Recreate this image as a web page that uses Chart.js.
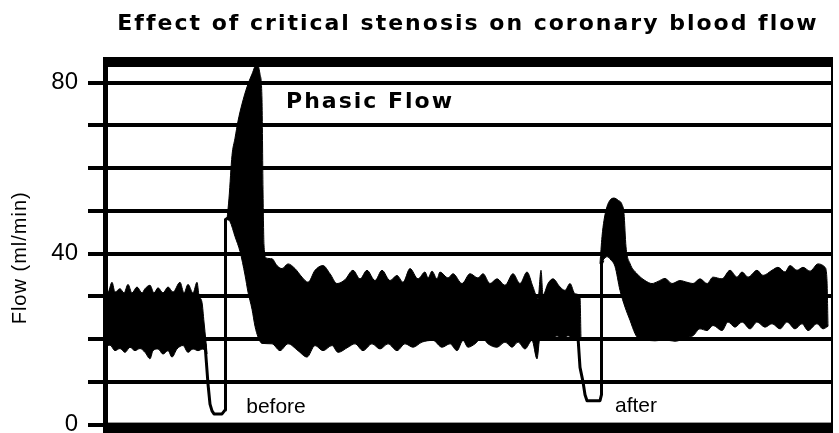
<!DOCTYPE html>
<html>
<head>
<meta charset="utf-8">
<title>Effect of critical stenosis on coronary blood flow</title>
<script src="https://cdn.jsdelivr.net/npm/chart.js@4.4.1/dist/chart.umd.min.js"></script>
<style>
  html, body { margin: 0; padding: 0; background: #fff; overflow: hidden; }
  #flowChart { display: block; }
</style>
</head>
<body>
<canvas id="flowChart" width="839" height="449"></canvas>
<script>
// Phasic flow record, time in seconds (x) and flow in ml/min (y).
// The black band is drawn as the area between an upper and a lower envelope.

// before the occlusion
const beforeHighTime = [0, 0.5, 0.9, 1.2, 1.7, 2.1, 2.5, 2.9, 3.4, 3.9, 4.2, 4.7, 5.1, 5.5, 6.0, 6.5, 7.0, 7.7, 8.1, 8.5, 9.0, 9.4, 9.6, 9.9, 10.1, 10.3, 10.4];
const beforeHigh = [31.8, 31, 33.3, 31, 31.8, 30.8, 32.8, 30.8, 32.2, 30.8, 31.8, 32.6, 30.8, 32, 30.8, 32.2, 31, 33.3, 30.8, 32.8, 30.8, 33.3, 30.2, 28.6, 24, 19.3, 16.6];
const beforeLowTime = [0, 0.7, 1.2, 1.7, 2.2, 2.7, 3.2, 3.7, 4.2, 4.7, 5.0, 5.5, 6.0, 6.5, 6.9, 7.4, 8.0, 8.5, 9.0, 9.5, 10.0, 10.4];
const beforeLow = [17.7, 18.6, 17.3, 17.8, 16.9, 18.1, 17.3, 17.8, 16.9, 15.4, 17.3, 17.7, 16.5, 17.3, 15.8, 17.7, 18.5, 16.9, 17.7, 17.3, 17.7, 16.6];

// hyperaemic peak and flow until the stenosis
const mainHighTime = [12.4, 12.6, 12.9, 13.2, 13.5, 13.9, 14.4, 14.9, 15.4, 15.7, 15.9, 16.0, 16.1, 16.3, 16.9, 17.4, 17.9, 18.5, 19.2, 19.9,
  20.5, 21.2, 22.0, 22.7, 23.4, 24.2, 25.0, 25.7, 26.4, 27.2, 27.9, 28.7, 29.4, 30.0, 30.7, 31.5, 32.2, 32.5, 32.9, 33.4,
  33.7, 34.5, 35.0, 35.9, 36.7, 37.5, 38.0, 38.7, 39.4, 40.2, 41.0, 41.7, 42.4, 43.0, 43.5, 43.8, 44.0, 44.5, 45.0, 45.7,
  46.2, 46.7, 47.2, 47.7, 47.8];
const mainHigh = [48, 53, 63, 67, 71, 75, 79, 82, 84.5, 82, 76, 55, 42, 39, 38.8, 37.2, 36.5, 37.6, 36.5, 34.5,
  33.3, 36.1, 37.2, 35.3, 33, 33.9, 36.1, 34.1, 36.1, 33.7, 36.1, 33.7, 34.9, 33.3, 36.5, 34.1, 35.7, 34.3, 35.9, 34.1,
  35.7, 34.3, 35.3, 33, 35.3, 34.3, 35.3, 33, 34.1, 32.6, 35.3, 33, 35.7, 32.2, 29.5, 36.1, 30.3, 33, 34.1, 32.2,
  31.4, 33, 30.6, 29.8, 20];
const mainLowTime = [12.4, 12.7, 13.2, 13.7, 14.2, 14.5, 14.9, 15.2, 15.5, 15.9, 16.9, 17.7, 18.5, 19.5, 20.4, 21.2, 22.0, 22.9, 23.5, 24.5,
  25.2, 26.0, 26.9, 27.7, 28.5, 29.4, 30.2, 31.0, 31.9, 33.0, 33.9, 34.7, 35.4, 36.0, 36.5, 37.2, 37.9, 38.5, 39.4, 40.2,
  40.9, 41.5, 42.2, 42.9, 43.4, 43.7, 44.4, 44.9, 45.4, 45.9, 46.5, 47.2, 47.7, 47.8];
const mainLow = [48, 47.5, 44, 40.5, 35, 31, 27, 23, 20.5, 19, 18.9, 17.3, 18.9, 17.3, 15.8, 18.5, 17.3, 18.5, 16.9, 18.1,
  18.9, 17.3, 18.9, 17.7, 18.9, 17.3, 18.9, 18.1, 19.3, 19.7, 18.1, 18.9, 17.3, 19.7, 18.1, 18.9, 20.4, 18.9, 18.1, 19.3,
  18.1, 19.3, 17.7, 19.7, 15.4, 20.4, 20.4, 19.7, 20.8, 19.7, 20.8, 19.7, 20.1, 20];

// after the critical stenosis
const afterHighTime = [49.7, 49.8, 49.9, 50.1, 50.4, 50.7, 51.1, 51.5, 51.9, 52.1, 52.3, 52.7, 53.4, 54.2, 54.9, 55.5, 56.2, 56.9, 57.7, 58.4,
  59.0, 59.7, 60.4, 61.0, 61.9, 62.7, 63.4, 63.9, 64.5, 65.4, 66.0, 66.9, 67.5, 68.2, 68.7, 69.4, 70.0, 70.7, 71.5, 72.2,
  72.4, 72.5];
const afterHigh = [37.7, 41, 44, 47.8, 51, 52.5, 53, 52.5, 51.5, 49.4, 41.6, 37.7, 35.3, 33.7, 33, 33.5, 34.2, 33, 33.7, 33.3,
  33, 34.1, 33, 34.5, 34.1, 36.1, 34.5, 35.7, 34.5, 36.1, 34.9, 36.1, 36.8, 35.7, 37.2, 36.1, 36.8, 35.9, 37.6, 36.8,
  33.7, 23];
const afterLowTime = [49.7, 50.0, 50.4, 50.8, 51.2, 51.7, 52.2, 52.7, 53.2, 53.5, 54.2, 55.2, 56.2, 57.2, 58.4, 59.0, 59.7, 60.4, 61.0, 61.9,
  62.5, 63.2, 63.9, 64.7, 65.4, 66.2, 66.9, 67.7, 68.4, 69.2, 69.9, 70.5, 71.4, 72.0, 72.5];
const afterLow = [37.7, 38.5, 39.3, 38.5, 37, 31.4, 27.5, 24.4, 21.3, 20.2, 19.8, 19.6, 19.8, 19.5, 20.4, 20.8, 22.4, 22, 23.2, 22,
  24, 22.8, 24, 22.4, 24, 22.8, 23.6, 22.4, 24, 22.4, 23.6, 22, 23.6, 22.4, 23];

// thin mean-flow trace during the two occlusions
const occlusion1Time = [10.2, 10.5, 10.7, 10.9, 11.1, 11.9, 12.2, 12.25, 12.25, 12.6];
const occlusion1Flow = [18.9, 9.5, 4.8, 3.2, 2.5, 2.5, 3.4, 6, 48, 48.5];
const occlusion2Time = [47.5, 47.7, 48.0, 48.2, 48.4, 49.7, 49.85, 49.85, 50.0];
const occlusion2Flow = [20.4, 13.4, 10, 7, 5.6, 5.6, 7, 37.7, 38.5];

const yTicksShown = [0, 40, 80];

const notes = [
  { text: 'Phasic Flow', t: 26.7, v: 75.3, font: 'bold 22px "DejaVu Sans"', spacing: '2px' },
  { text: 'before', t: 17.3, v: 4.0, font: '21px "Liberation Sans"', spacing: '0px' },
  { text: 'after', t: 53.3, v: 4.2, font: '21px "Liberation Sans"', spacing: '0px' }
];

function pairs(xs, ys) {
  return xs.map((x, i) => ({ x: x, y: ys[i] }));
}

function bandEdge(xs, ys, fill) {
  return {
    data: pairs(xs, ys),
    borderColor: '#000',
    backgroundColor: '#000',
    borderWidth: 1,
    pointRadius: 0,
    cubicInterpolationMode: 'monotone',
    fill: fill
  };
}

function traceLine(xs, ys) {
  return {
    data: pairs(xs, ys),
    borderColor: '#000',
    borderWidth: 3,
    borderJoinStyle: 'round',
    pointRadius: 0,
    tension: 0,
    fill: false
  };
}

// thick frame round the record
const framePlugin = {
  id: 'frame',
  afterDatasetsDraw(chart) {
    const { ctx, chartArea: a } = chart;
    ctx.save();
    ctx.fillStyle = '#000';
    ctx.fillRect(a.left, a.top, a.width, 10);
    ctx.fillRect(a.left, a.bottom - 2, a.width, 16);
    ctx.fillRect(a.left, a.top, 5, a.height);
    ctx.fillRect(a.right - 2, a.top, 2, a.height);
    ctx.restore();
  }
};

// title, axis title and the notes inside the plot
const textPlugin = {
  id: 'texts',
  afterDraw(chart) {
    const { ctx, chartArea: a, scales: { x, y } } = chart;
    ctx.save();
    ctx.fillStyle = '#000';
    ctx.textAlign = 'center';

    ctx.textBaseline = 'alphabetic';
    ctx.font = 'bold 22px "DejaVu Sans"';
    ctx.letterSpacing = '2px';
    ctx.fillText('Effect of critical stenosis on coronary blood flow', (a.left + a.right) / 2, 30);

    ctx.textBaseline = 'middle';
    notes.forEach(n => {
      ctx.font = n.font;
      ctx.letterSpacing = n.spacing;
      ctx.fillText(n.text, x.getPixelForValue(n.t), y.getPixelForValue(n.v));
    });

    ctx.letterSpacing = '1px';
    ctx.font = '20px "Liberation Sans"';
    ctx.translate(20, (a.top + a.bottom) / 2 + 17);
    ctx.rotate(-Math.PI / 2);
    ctx.fillText('Flow (ml/min)', 0, 0);
    ctx.restore();
  }
};

const ctx = document.getElementById('flowChart').getContext('2d');
const flowChart = new Chart(ctx, {
  type: 'line',
  data: {
    datasets: [
      bandEdge(beforeHighTime, beforeHigh, false),
      bandEdge(beforeLowTime, beforeLow, '-1'),
      bandEdge(mainHighTime, mainHigh, false),
      bandEdge(mainLowTime, mainLow, '-1'),
      bandEdge(afterHighTime, afterHigh, false),
      bandEdge(afterLowTime, afterLow, '-1'),
      traceLine(occlusion1Time, occlusion1Flow),
      traceLine(occlusion2Time, occlusion2Flow)
    ]
  },
  options: {
    responsive: false,
    animation: false,
    layout: { padding: { top: 57, right: 6, bottom: 20, left: 0 } },
    plugins: {
      legend: { display: false },
      tooltip: { enabled: false },
      title: { display: false }
    },
    scales: {
      x: { type: 'linear', min: 0, max: 73, display: false },
      y: {
        min: 0,
        max: 86,
        afterFit: scale => { scale.width = 103; },
        border: { display: false },
        grid: { color: '#000', lineWidth: 4, tickLength: 15 },
        ticks: {
          stepSize: 10,
          includeBounds: false,
          padding: 10,
          color: '#000',
          font: { family: 'Liberation Sans', size: 24 },
          callback: value => (yTicksShown.includes(value) ? value : '')
        }
      }
    }
  },
  plugins: [framePlugin, textPlugin]
});
</script>
</body>
</html>
